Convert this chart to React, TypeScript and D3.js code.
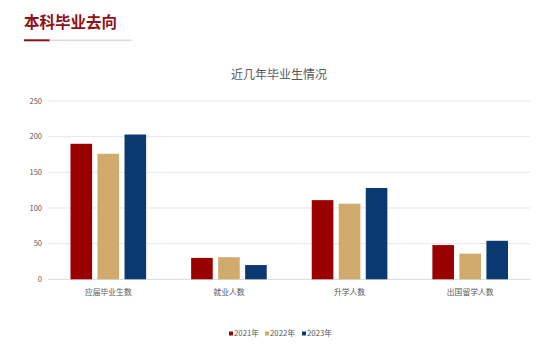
import React from "react";
import * as d3 from "d3";

const categories = ["应届毕业生数", "就业人数", "升学人数", "出国留学人数"];
const seriesNames = ["2021年", "2022年", "2023年"];
const values2021 = [190, 30, 111, 48];
const values2022 = [176, 31, 106, 36];
const values2023 = [203, 20, 128, 54];
const yTicks = [0, 50, 100, 150, 200, 250];
const colors = ["#9B0000", "#D1AB6E", "#0B3A73"];

const W = 540;
const H = 357;
const left = 48;
const right = 530.5;
const top = 101;
const bottom = 279.3;

export default function App() {
  const series = [values2021, values2022, values2023];
  const x0 = d3.scaleBand<string>().domain(categories).range([left, right]).paddingInner(0).paddingOuter(0);
  const x1 = d3
    .scaleBand<string>()
    .domain(seriesNames)
    .range([22.5, x0.bandwidth() - 22.5])
    .paddingInner(0.2)
    .paddingOuter(0);
  const y = d3.scaleLinear().domain([0, 250]).range([bottom, top]);
  const font = "'Noto Sans CJK SC', 'Noto Sans', sans-serif";

  return (
    <svg
      width={W}
      height={H}
      style={{ position: "absolute", left: 0, top: 0, background: "#fff" }}
      fontFamily={font}
    >
      <rect x={0} y={0} width={W} height={H} fill="#fff" />
      <text x={24} y={28} fontSize={15.5} fontWeight="bold" fill="#8E1218">
        本科毕业去向
      </text>
      <rect x={49.5} y={39.5} width={82} height={1.6} fill="#D9D9D9" />
      <rect x={24} y={39.3} width={25.5} height={2} fill="#8E1218" />

      <text x={279} y={79} fontSize={12} fill="#595959" textAnchor="middle">
        近几年毕业生情况
      </text>

      {yTicks.map((t) => (
        <g key={t}>
          <line x1={left} x2={right} y1={y(t)} y2={y(t)} stroke={t === 0 ? "#D9D9D9" : "#E6E6E6"} strokeWidth={1} />
          <text x={42} y={y(t)} dy="0.35em" fontSize={7.5} fill="#595959" textAnchor="end">
            {t}
          </text>
        </g>
      ))}

      {categories.map((c, ci) => (
        <g key={c}>
          {series.map((vals, si) => (
            <rect
              key={si}
              x={(x0(c) as number) + (x1(seriesNames[si]) as number)}
              y={y(vals[ci])}
              width={x1.bandwidth()}
              height={bottom - y(vals[ci])}
              fill={colors[si]}
            />
          ))}
          <text
            x={(x0(c) as number) + x0.bandwidth() / 2}
            y={292}
            dy="0.35em"
            fontSize={7.8}
            fill="#595959"
            textAnchor="middle"
          >
            {c}
          </text>
        </g>
      ))}

      {seriesNames.map((s, i) => {
        const lx = [229, 265, 302][i];
        return (
          <g key={s}>
            <rect x={lx} y={331.5} width={4} height={4} fill={colors[i]} />
            <text x={lx + 5} y={333.7} dy="0.35em" fontSize={7.8} fill="#595959">
              {s}
            </text>
          </g>
        );
      })}
    </svg>
  );
}
